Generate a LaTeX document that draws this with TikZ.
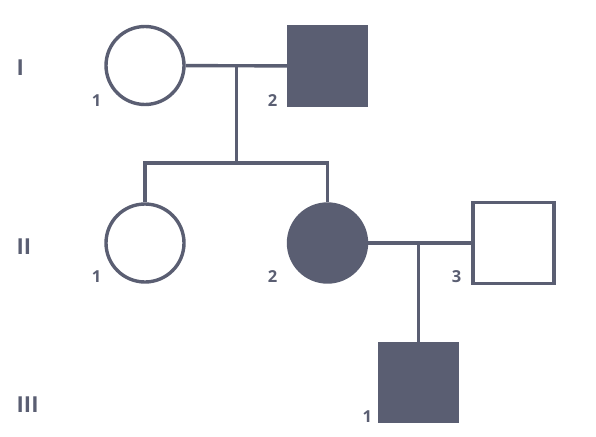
\documentclass[tikz,border=0pt]{standalone}
\usepackage{fontspec}
\setmainfont{Open Sans}
\usepackage{xcolor}
\definecolor{pedgray}{RGB}{90,94,114}
\usepackage{tikz}
\usetikzlibrary{calc}

\begin{document}
\begin{tikzpicture}[x=1pt,y=-1pt,
line width=3.4pt,draw=pedgray,
person/.style={draw=pedgray,line width=3.4pt,minimum size=78pt,inner sep=0pt},
female/.style={person,circle},
male/.style={person,rectangle},
affected/.style={fill=pedgray},
num/.style={text=pedgray,inner sep=0pt,font=\fontsize{16.5}{16.5}\selectfont\bfseries},
gen/.style={text=pedgray,inner sep=0pt,anchor=west,font=\fontsize{22}{22}\selectfont\bfseries}]
\useasboundingbox (0,0) rectangle (596,436);
% generation numbers
\node (genI) [gen] at (15,68) {I};
\node (genII) [gen] at (15,246.5) {II};
\node (genIII) [gen] at (15,405) {III};
% generation I
\node (I1) [female,
    label={[num,xshift=-48.3pt,yshift=-35pt]center:1}] at (145,65.5) {};
\node (I2) [male,affected,
    label={[num,xshift=-54.8pt,yshift=-34.7pt]center:2}] at (327.5,66) {};
% generation II
\node (II1) [female,
    label={[num,xshift=-48.3pt,yshift=-33.7pt]center:1}] at (145,243) {};
\node (II2) [female,affected,
    label={[num,xshift=-54.8pt,yshift=-33.7pt]center:2}] at (327.5,243) {};
\node (II3) [male,minimum size=81pt,
    label={[num,xshift=-56.8pt,yshift=-33.7pt]center:3}] at (513.5,243) {};
% generation III
\node (III1) [male,affected,
    label={[num,xshift=-51.2pt,yshift=-34.2pt]center:1}] at (418.5,382.5) {};
% marriages and descent
\coordinate (mI) at ($(I1.east)!0.5!(I2.west)$);
\coordinate (sI) at (mI |- 0,163);
\draw (I1) -- (I2);
\draw (mI) -- (sI);
\draw (II1.north) |- (sI) -| (II2.north);
\coordinate (mII) at (418.5,243);
\draw (II2) -- (II3);
\draw (mII) -- (III1.north);
\end{tikzpicture}
\end{document}
